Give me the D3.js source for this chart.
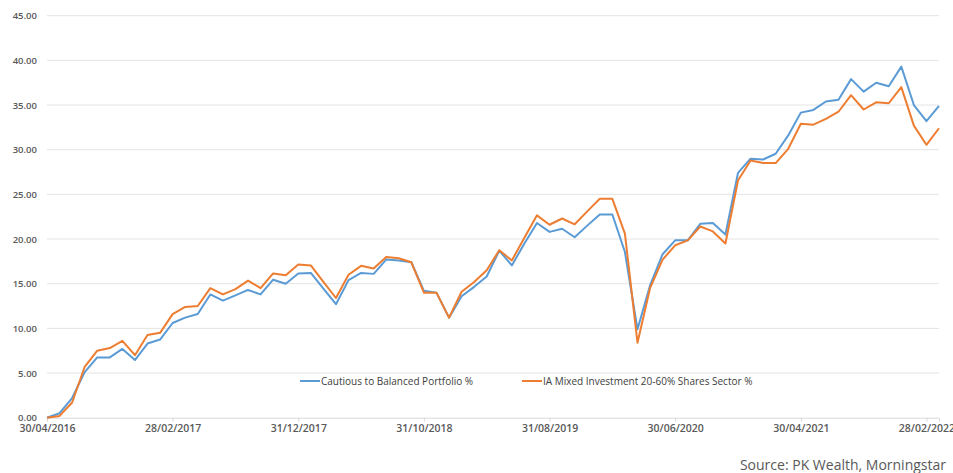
<!DOCTYPE html>
<html>
<head>
<meta charset="utf-8">
<script src="https://cdn.jsdelivr.net/npm/d3@7"></script>
<style>
  body { margin: 0; background: #fff; }
  text { font-family: "Open Sans", sans-serif; }
</style>
</head>
<body>
<div id="chart"></div>
<script>
// monthly points, 30/04/2016 .. 31/03/2022
var tickLabels = ["30/04/2016", "28/02/2017", "31/12/2017", "31/10/2018",
    "31/08/2019", "30/06/2020", "30/04/2021", "28/02/2022"]
var yTicks = [0, 5, 10, 15, 20, 25, 30, 35, 40, 45]

var cautious = [0, 0.5, 2.2, 5.1, 6.75, 6.75, 7.7, 6.45, 8.3, 8.75,
    10.6, 11.2, 11.6, 13.8, 13.1, 13.7, 14.3, 13.8, 15.45, 15.0,
    16.15, 16.2, 14.45, 12.7, 15.4, 16.2, 16.1, 17.7, 17.6, 17.4,
    14.2, 14.0, 11.2, 13.6, 14.65, 15.8, 18.7, 17.05, 19.5, 21.8,
    20.8, 21.15, 20.2, 21.5, 22.75, 22.75, 18.55, 9.9, 14.8, 18.3,
    19.85, 19.85, 21.7, 21.8, 20.5, 27.4, 29.0, 28.9, 29.55, 31.6,
    34.15, 34.45, 35.4, 35.6, 37.9, 36.5, 37.5, 37.1, 39.3, 35.0,
    33.2, 34.9]

var sector = [0, 0.2, 1.7, 5.7, 7.5, 7.8, 8.6, 7.0, 9.25, 9.5,
    11.6, 12.4, 12.5, 14.5, 13.8, 14.4, 15.35, 14.5, 16.15, 15.95,
    17.15, 17.05, 15.2, 13.4, 16.0, 17.0, 16.7, 18.0, 17.85, 17.4,
    14.0, 14.0, 11.2, 14.1, 15.2, 16.5, 18.75, 17.6, 20.15, 22.65,
    21.6, 22.3, 21.65, 23.1, 24.5, 24.5, 20.6, 8.4, 14.5, 17.7,
    19.3, 19.85, 21.4, 20.85, 19.5, 26.55, 28.8, 28.5, 28.5, 30.1,
    32.9, 32.8, 33.45, 34.25, 36.1, 34.5, 35.3, 35.2, 37.0, 32.7,
    30.55, 32.4]

var seriesNames = ["Cautious to Balanced Portfolio %", "IA Mixed Investment 20-60% Shares Sector %"]
var seriesColors = ["#5B9BD5", "#ED7D31"]

var width = 953, height = 473
var plotLeft = 47, plotRight = 939, plotTop = 15.7, plotBottom = 417.7

var svg = d3.select("#chart").append("svg")
    .attr("width", width)
    .attr("height", height)

var x = d3.scaleLinear()
    .domain([0, cautious.length - 1])
    .range([plotLeft, plotRight])

var y = d3.scaleLinear()
    .domain([0, 45])
    .range([plotBottom, plotTop])

// gridlines
svg.append("g")
    .selectAll("line")
    .data(yTicks.slice(1))
    .enter()
    .append("line")
    .attr("x1", plotLeft)
    .attr("x2", plotRight)
    .attr("y1", function (d) { return y(d) })
    .attr("y2", function (d) { return y(d) })
    .attr("stroke", "#e4e4e4")
    .attr("stroke-width", 1)

// y axis labels
var yAxis = d3.axisLeft(y)
    .tickValues(yTicks)
    .tickSize(0)
    .tickPadding(10)
    .tickFormat(d3.format(".2f"))

svg.append("g")
    .attr("transform", "translate(" + plotLeft + ",0)")
    .call(yAxis)
    .call(function (g) { g.select(".domain").remove() })
    .selectAll("text")
    .attr("font-family", "Open Sans, sans-serif")
    .attr("font-size", 9.5)
    .attr("font-weight", 600)
    .attr("fill", "#595959")

// x axis
var tickIdx = tickLabels.map(function (d, i) { return i * 10 })
var xAxis = d3.axisBottom(x)
    .tickValues(tickIdx)
    .tickSize(4)
    .tickPadding(3)
    .tickFormat(function (d, i) { return tickLabels[i] })

var xg = svg.append("g")
    .attr("transform", "translate(0," + plotBottom + ")")
    .call(xAxis)
xg.select(".domain").attr("stroke", "#d9d9d9")
xg.selectAll(".tick line").attr("stroke", "#d9d9d9")
xg.selectAll("text")
    .attr("font-family", "Open Sans, sans-serif")
    .attr("font-size", 10.5)
    .attr("font-weight", 600)
    .attr("fill", "#595959")

// lines
var line = d3.line()
    .x(function (d, i) { return x(i) })
    .y(function (d) { return y(d) })

var allSeries = [cautious, sector]
svg.selectAll("path.series")
    .data(allSeries)
    .enter()
    .append("path")
    .attr("class", "series")
    .attr("d", line)
    .attr("fill", "none")
    .attr("stroke", function (d, i) { return seriesColors[i] })
    .attr("stroke-width", 2)
    .attr("stroke-linejoin", "round")

// legend
var legendX = [300, 522]
var legend = svg.append("g")
legend.selectAll("line")
    .data(seriesNames)
    .enter()
    .append("line")
    .attr("x1", function (d, i) { return legendX[i] })
    .attr("x2", function (d, i) { return legendX[i] + 20 })
    .attr("y1", 381)
    .attr("y2", 381)
    .attr("stroke", function (d, i) { return seriesColors[i] })
    .attr("stroke-width", 2)
legend.selectAll("text")
    .data(seriesNames)
    .enter()
    .append("text")
    .attr("x", function (d, i) { return legendX[i] + 21 })
    .attr("y", 384.5)
    .attr("font-size", 10)
    .attr("fill", "#404040")
    .text(function (d) { return d })

// source note
svg.append("text")
    .attr("x", 946)
    .attr("y", 470)
    .attr("text-anchor", "end")
    .attr("font-size", 14)
    .attr("fill", "#595959")
    .text("Source: PK Wealth, Morningstar")
</script>
</body>
</html>
